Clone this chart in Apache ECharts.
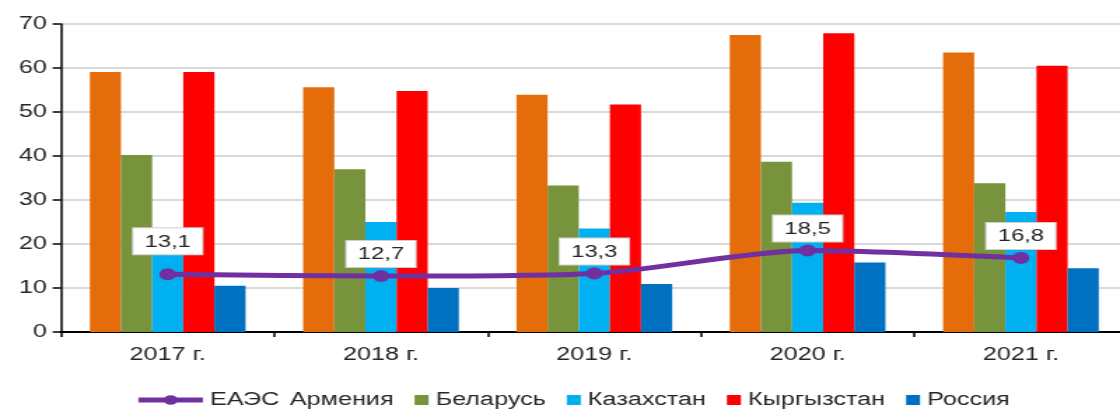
<!DOCTYPE html>
<html>
<head>
<meta charset="utf-8">
<script src="https://cdn.jsdelivr.net/npm/echarts@6/dist/echarts.min.js"></script>
<style>
  html, body { margin: 0; padding: 0; background: #fff; overflow: hidden; width: 1120px; height: 409px; }
  /* the chart is laid out narrow and widened horizontally */
  #chart { width: 810px; height: 409px; transform: scaleX(1.4); transform-origin: 0 0; }
</style>
</head>
<body>
<div id="chart"></div>
<script>
// Categories
const years = ['2017 г.', '2018 г.', '2019 г.', '2020 г.', '2021 г.'];

// Country series (bars)
const armenia    = [59.1, 55.6, 53.9, 67.5, 63.5];
const belarus    = [40.2, 37.0, 33.3, 38.7, 33.8];
const kazakhstan = [22.0, 25.0, 23.5, 29.4, 27.3];
const kyrgyzstan = [59.1, 54.8, 51.7, 67.9, 60.5];
const russia     = [10.5, 10.0, 10.9, 15.8, 14.5];

// EAEU average (line)
const eaes = [13.1, 12.7, 13.3, 18.5, 16.8];

// Y axis ticks
const yTicks = [0, 10, 20, 30, 40, 50, 60, 70];

const FONT = '"Liberation Sans", Arial, sans-serif';
const TEXT = '#262626';

const chart = echarts.init(document.getElementById('chart'), null, { renderer: 'canvas' });

function barSeries(name, data, color) {
  return {
    name: name,
    type: 'bar',
    data: data,
    barGap: '0%',
    barCategoryGap: '27%',
    itemStyle: { color: color },
    z: 2
  };
}

chart.setOption({
  animation: false,
  backgroundColor: '#ffffff',
  textStyle: { fontFamily: FONT },
  grid: { left: 43.6, right: 4.6, top: 24, bottom: 77, containLabel: false },
  legend: [
    {
      data: ['ЕАЭС'],
      left: 96.4,
      top: 391,
      padding: 0,
      itemWidth: 46,
      itemHeight: 12,
      lineStyle: { width: 5 },
      textStyle: { fontSize: 18, color: TEXT, fontFamily: FONT }
    },
    {
      data: [
        { name: 'Армения', itemStyle: { opacity: 0 } },
        'Беларусь', 'Казахстан', 'Кыргызстан', 'Россия'
      ],
      left: 192,
      top: 391,
      padding: 0,
      itemWidth: 10,
      itemHeight: 10,
      itemGap: 15,
      icon: 'rect',
      textStyle: { fontSize: 18, color: TEXT, fontFamily: FONT }
    }
  ],
  xAxis: {
    type: 'category',
    data: years,
    axisLine: { show: true, lineStyle: { color: '#000', width: 2 } },
    axisTick: { show: true, length: 5, interval: 0, lineStyle: { color: '#000', width: 1.5 } },
    axisLabel: { fontSize: 18, color: TEXT, margin: 14, fontFamily: FONT },
    splitLine: { show: false }
  },
  yAxis: {
    type: 'value',
    min: yTicks[0],
    max: yTicks[yTicks.length - 1],
    interval: yTicks[1] - yTicks[0],
    axisLine: { show: true, lineStyle: { color: '#000', width: 1.5 } },
    axisTick: { show: true, length: 6, lineStyle: { color: '#000', width: 1.5 } },
    axisLabel: { fontSize: 18, color: TEXT, margin: 10, fontFamily: FONT },
    splitLine: { show: true, lineStyle: { color: '#d9d9d9', width: 2 } }
  },
  series: [
    barSeries('Армения', armenia, '#E46C0A'),
    barSeries('Беларусь', belarus, '#77933C'),
    barSeries('Казахстан', kazakhstan, '#00B0F0'),
    barSeries('Кыргызстан', kyrgyzstan, '#FF0000'),
    barSeries('Россия', russia, '#0070C0'),
    {
      name: 'ЕАЭС',
      type: 'line',
      data: eaes.map((v, i) => i === 0 ? { value: v, label: { distance: 14 } } : v),
      smooth: 0.25,
      symbol: 'circle',
      symbolSize: 12,
      lineStyle: { color: '#7030A0', width: 5 },
      itemStyle: { color: '#7030A0' },
      z: 5,
      label: {
        show: true,
        position: 'top',
        distance: 3,
        formatter: p => String(p.value).replace('.', ','),
        fontSize: 17,
        color: TEXT,
        fontFamily: FONT,
        backgroundColor: '#ffffff',
        borderColor: '#cfcfcf',
        borderWidth: 1,
        padding: [5, 8, 4, 8]
      }
    }
  ]
});
</script>
</body>
</html>
